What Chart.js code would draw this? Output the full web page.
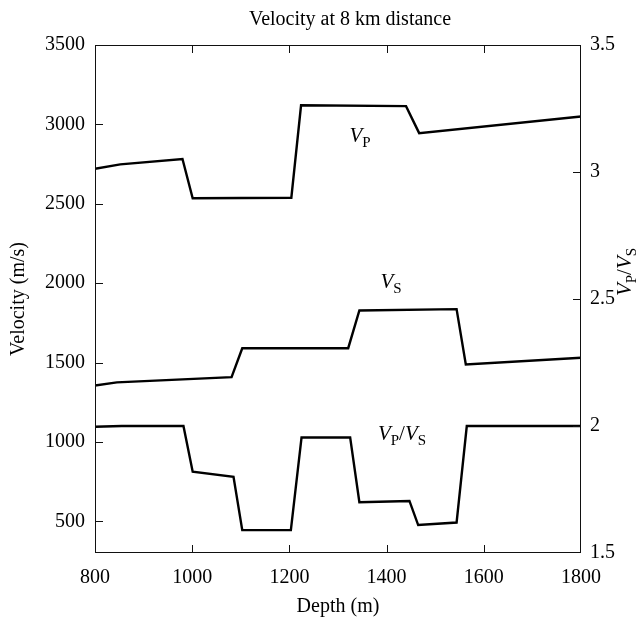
<!DOCTYPE html>
<html>
<head>
<meta charset="utf-8">
<script src="https://cdn.jsdelivr.net/npm/chart.js@4.4.1/dist/chart.umd.min.js"></script>
<style>
  body { margin: 0; background: #fff; }
</style>
</head>
<body>
<canvas id="velocityChart" width="643" height="622"></canvas>
<script>
// depth (m) and velocity (m/s) profiles at 8 km
const vpDepth = [800, 852, 980, 1001, 1204, 1224, 1440, 1467, 1800];
const vpValues = [2720, 2748, 2782, 2535, 2538, 3120, 3115, 2945, 3050];

const vsDepth = [800, 845, 1081, 1103, 1321, 1344, 1544, 1563, 1800];
const vsValues = [1355, 1375, 1408, 1590, 1590, 1828, 1836, 1488, 1530];

const ratioDepth = [800, 855, 982, 1001, 1085, 1103, 1203, 1225, 1325, 1344, 1447, 1465, 1544, 1565, 1800];
const ratioValues = [1.997, 2.0, 2.0, 1.82, 1.80, 1.59, 1.59, 1.955, 1.955, 1.70, 1.705, 1.61, 1.62, 2.0, 2.0];

const depthTicks = [800, 1000, 1200, 1400, 1600, 1800];
const velocityTicks = [500, 1000, 1500, 2000, 2500, 3000, 3500];
const ratioTicks = [1.5, 2, 2.5, 3, 3.5];

const SERIF = "'Liberation Serif', 'DejaVu Serif', serif";

function toPoints(xs, ys) {
  return xs.map((x, i) => ({ x: x, y: ys[i] }));
}

// text like V_P / V_S : italic V, roman subscript
function drawRich(ctx, parts, x, y) {
  const fonts = {
    v: 'italic 21px ' + SERIF,
    r: '21px ' + SERIF,
    sub: '15px ' + SERIF
  };
  let w = 0;
  parts.forEach(([t, k]) => { ctx.font = fonts[k]; w += ctx.measureText(t).width; });
  let cx = x - w / 2;
  ctx.textAlign = 'left';
  ctx.textBaseline = 'alphabetic';
  parts.forEach(([t, k]) => {
    ctx.font = fonts[k];
    ctx.fillText(t, cx, y + (k === 'sub' ? 5 : 0));
    cx += ctx.measureText(t).width;
  });
}

const VP = [['V', 'v'], ['P', 'sub']];
const VS = [['V', 'v'], ['S', 'sub']];
const VPVS = [['V', 'v'], ['P', 'sub'], ['/', 'r'], ['V', 'v'], ['S', 'sub']];

// frame, inward ticks, titles and curve labels
const framePlugin = {
  id: 'framePlugin',
  afterDraw(chart) {
    const { ctx, chartArea: a, scales } = chart;
    const tl = 8;
    ctx.save();
    ctx.strokeStyle = '#111';
    ctx.lineWidth = 1;
    ctx.strokeRect(a.left + 0.5, a.top + 0.5, a.width - 1, a.height - 1);

    ctx.beginPath();
    depthTicks.slice(1, -1).forEach(v => {
      const px = Math.round(scales.x.getPixelForValue(v)) + 0.5;
      ctx.moveTo(px, a.bottom); ctx.lineTo(px, a.bottom - tl);
      ctx.moveTo(px, a.top); ctx.lineTo(px, a.top + tl);
    });
    velocityTicks.slice(0, -1).forEach(v => {
      const py = Math.round(scales.y.getPixelForValue(v)) + 0.5;
      ctx.moveTo(a.left, py); ctx.lineTo(a.left + tl, py);
    });
    ratioTicks.slice(1, -1).forEach(v => {
      const py = Math.round(scales.y1.getPixelForValue(v)) + 0.5;
      ctx.moveTo(a.right, py); ctx.lineTo(a.right - tl, py);
    });
    ctx.stroke();

    ctx.fillStyle = '#000';
    ctx.font = '20px ' + SERIF;
    ctx.textAlign = 'center';
    ctx.textBaseline = 'alphabetic';
    ctx.fillText('Velocity at 8 km distance', 350, 25);
    ctx.fillText('Depth (m)', (a.left + a.right) / 2, 612);

    ctx.save();
    ctx.translate(19, (a.top + a.bottom) / 2);
    ctx.rotate(-Math.PI / 2);
    ctx.textBaseline = 'middle';
    ctx.fillText('Velocity (m/s)', 0, 0);
    ctx.restore();

    ctx.save();
    ctx.translate(624, 272);
    ctx.rotate(-Math.PI / 2);
    drawRich(ctx, VPVS, 0, 7);
    ctx.restore();

    drawRich(ctx, VP, 360, 142);
    drawRich(ctx, VS, 391, 288);
    drawRich(ctx, VPVS, 402, 440);
    ctx.restore();
  }
};

const tickFont = { family: SERIF, size: 20 };
const plainLabel = v => String(v);
const lineStyle = { borderColor: '#000', borderWidth: 2.4, pointRadius: 0, showLine: true, fill: false, tension: 0 };

new Chart(document.getElementById('velocityChart'), {
  type: 'scatter',
  data: {
    datasets: [
      Object.assign({ label: 'VP', data: toPoints(vpDepth, vpValues), yAxisID: 'y' }, lineStyle),
      Object.assign({ label: 'VS', data: toPoints(vsDepth, vsValues), yAxisID: 'y' }, lineStyle),
      Object.assign({ label: 'VP/VS', data: toPoints(ratioDepth, ratioValues), yAxisID: 'y1' }, lineStyle)
    ]
  },
  options: {
    responsive: false,
    animation: false,
    layout: { padding: { top: 45, left: 0, right: 0, bottom: 0 } },
    plugins: { legend: { display: false }, tooltip: { enabled: false } },
    scales: {
      x: {
        type: 'linear', min: 800, max: 1800,
        afterBuildTicks: s => { s.ticks = depthTicks.map(v => ({ value: v })); },
        afterFit: s => { s.height = 69; },
        ticks: { font: tickFont, color: '#000', padding: 13, autoSkip: false, maxRotation: 0, callback: plainLabel },
        grid: { display: false, drawTicks: false },
        border: { display: false }
      },
      y: {
        type: 'linear', position: 'left', min: 300, max: 3500,
        afterBuildTicks: s => { s.ticks = velocityTicks.map(v => ({ value: v })); },
        afterFit: s => { s.width = 95; },
        ticks: { font: tickFont, color: '#000', padding: 10, autoSkip: false, callback: plainLabel },
        grid: { display: false, drawTicks: false },
        border: { display: false }
      },
      y1: {
        type: 'linear', position: 'right', min: 1.5, max: 3.5,
        afterBuildTicks: s => { s.ticks = ratioTicks.map(v => ({ value: v })); },
        afterFit: s => { s.width = 62; },
        ticks: { font: tickFont, color: '#000', padding: 9, autoSkip: false, callback: plainLabel },
        grid: { display: false, drawTicks: false },
        border: { display: false }
      }
    }
  },
  plugins: [framePlugin]
});
</script>
</body>
</html>
